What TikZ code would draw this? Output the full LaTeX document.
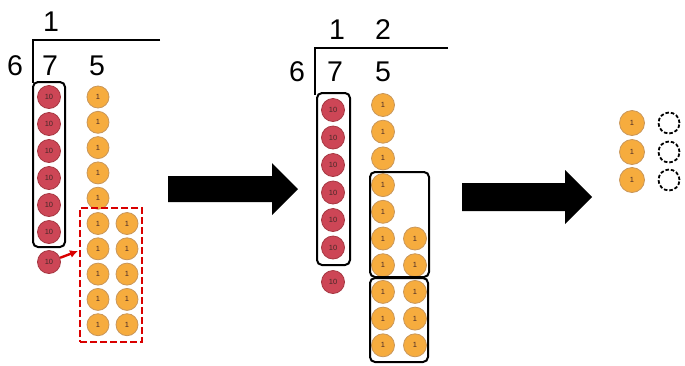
\documentclass[tikz,border=0pt]{standalone}
\usepackage{fontspec}
\setmainfont{Liberation Sans}
\usetikzlibrary{arrows.meta}

\definecolor{tenred}{RGB}{205,70,86}
\definecolor{tenedge}{RGB}{165,55,65}
\definecolor{oneorange}{RGB}{246,172,62}
\definecolor{oneedge}{RGB}{200,150,90}
\definecolor{coinink}{RGB}{70,40,40}

\begin{document}
\begin{tikzpicture}[x=1pt, y=-1pt,
  digit/.style={font=\fontsize{28.5}{28.5}\selectfont, inner sep=0pt},
  tencoin/.style={circle, draw=tenedge, fill=tenred, line width=0.8pt,
    minimum size=23pt, inner sep=0pt, font=\fontsize{7.5}{7.5}\selectfont, text=coinink},
  onecoin/.style={circle, draw=oneedge, fill=oneorange, line width=0.8pt,
    minimum size=22pt, inner sep=0pt, font=\fontsize{7.5}{7.5}\selectfont, text=coinink},
  emptycoin/.style={circle, draw=black, dash pattern=on 3.5pt off 2pt, line width=1.8pt,
    minimum size=21pt, inner sep=0pt},
  groupbox/.style={draw=black, line width=2pt, rounded corners=5pt},
  bracket/.style={line width=2.4pt}]

  \useasboundingbox (0,0) rectangle (685,365);

  % --- panel 1: 75 / 6, first digit ---
  \draw[bracket] (160,40) -- (33,40) -- (33,83);
  \node[digit] (q1a) at (51,22) {1};
  \node[digit] (dv1) at (15,66) {6};
  \node[digit] (n1a) at (50,66) {7};
  \node[digit] (n1b) at (97,66) {5};

  \draw[groupbox] (33,82) rectangle (65,247);
  \foreach \k in {0,...,5}
    \node[tencoin] (p1t\k) at (49,97+27*\k) {10};
  \node[tencoin] (p1tx) at (49,262) {10};

  \foreach \k in {0,...,9}
    \node[onecoin] (p1a\k) at (98,97+25.3*\k) {1};
  \foreach \k in {5,...,9}
    \node[onecoin] (p1b\k) at (127,97+25.3*\k) {1};

  % regrouped ten -> ten ones
  \node[draw=red!85!black, dash pattern=on 7pt off 3pt, line width=2.6pt,
    minimum width=62pt, minimum height=134pt, inner sep=0pt] (swap) at (111,275) {};
  \coordinate (swapin) at (78,251);
  \draw[-{Latex[length=8pt,width=8pt]}, red!85!black, line width=2.4pt] (p1tx) -- (swapin);

  % --- big arrows ---
  \foreach \xa/\xb/\xc/\ym/\hs/\hh in {168/272/298/189/13/26, 462/565/592/197/14/27}
    \fill[black] (\xa,\ym-\hs) -- (\xb,\ym-\hs) -- (\xb,\ym-\hh) -- (\xc,\ym)
      -- (\xb,\ym+\hh) -- (\xb,\ym+\hs) -- (\xa,\ym+\hs) -- cycle;

  % --- panel 2: second digit ---
  \draw[bracket] (448,48) -- (315,48) -- (315,95);
  \node[digit] (q2a) at (337,30) {1};
  \node[digit] (q2b) at (383,30) {2};
  \node[digit] (dv2) at (297,72) {6};
  \node[digit] (n2a) at (335,72) {7};
  \node[digit] (n2b) at (383,72) {5};

  \draw[groupbox] (317,93) rectangle (350,265);
  \foreach \k in {0,...,5}
    \node[tencoin] (p2t\k) at (333,110+27.5*\k) {10};
  \node[tencoin] (p2tx) at (333,282) {10};

  \foreach \k in {0,...,9}
    \node[onecoin, minimum size=23pt] (p2a\k) at (383,105+26.7*\k) {1};
  \foreach \k in {5,...,9}
    \node[onecoin, minimum size=23pt] (p2b\k) at (415,105+26.7*\k) {1};

  \draw[groupbox] (370,172) rectangle (429,277);
  \draw[groupbox] (370,278) rectangle (428,362);

  % --- panel 3: remainder ---
  \foreach \k/\y in {0/123, 1/152, 2/180} {
    \node[onecoin, minimum size=25pt] (r\k) at (632,\y) {1};
    \node[emptycoin] (e\k) at (669,\y) {};
  }

\end{tikzpicture}
\end{document}
